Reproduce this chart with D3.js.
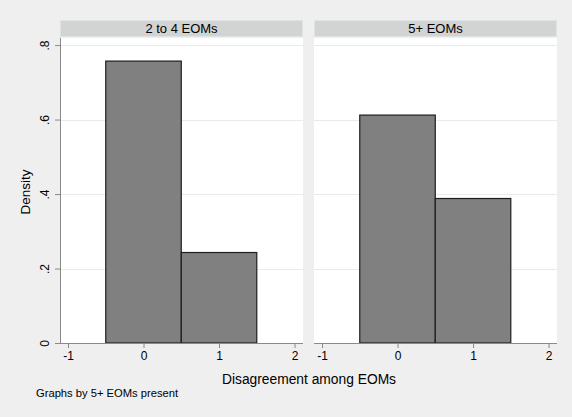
<!DOCTYPE html>
<html>
<head>
<meta charset="utf-8">
<script src="https://cdn.jsdelivr.net/npm/d3@7"></script>
<style>
  html, body { margin: 0; padding: 0; background: #efefef; }
  svg { display: block; font-family: "Liberation Sans", Arial, Helvetica, sans-serif; }
</style>
</head>
<body>
<svg id="chart" width="572" height="417"></svg>
<script>
// Data
const panels = ["2 to 4 EOMs", "5+ EOMs"];
const binStarts = [-0.5, 0.5];
const binWidth = 1;
const densities = [
  [0.757, 0.243],   // 2 to 4 EOMs
  [0.612, 0.388]    // 5+ EOMs
];
const xTicks = [-1, 0, 1, 2];
const xTickLabels = ["-1", "0", "1", "2"];
const yTicks = [0, 0.2, 0.4, 0.6, 0.8];
const yTickLabels = ["0", ".2", ".4", ".6", ".8"];
const xTitle = "Disagreement among EOMs";
const yTitle = "Density";
const note = "Graphs by 5+ EOMs present";

const svg = d3.select("#chart");
svg.append("rect").attr("width", 572).attr("height", 417).attr("fill", "#efefef");

const panelLeft = [60, 314];
const panelW = 243;
const plotTop = 38, plotBottom = 343;
const stripTop = 20, stripH = 17;
const FONT = "Liberation Sans, Arial, sans-serif";

const y = d3.scaleLinear().domain([0, 0.819]).range([plotBottom, plotTop]);

panels.forEach((name, i) => {
  const x0 = panelLeft[i];
  const x = d3.scaleLinear().domain([-1.106, 2.112]).range([x0, x0 + panelW]);
  const g = svg.append("g");

  // strip
  g.append("rect").attr("x", x0 + 0.5).attr("y", stripTop + 0.5)
    .attr("width", panelW - 1).attr("height", stripH - 1)
    .attr("fill", "#d3d3d3").attr("stroke", "#dde4e6").attr("stroke-width", 1);
  g.append("text").attr("x", x0 + panelW / 2).attr("y", stripTop + 13)
    .attr("text-anchor", "middle").attr("font-size", 13).attr("fill", "#000")
    .text(name);

  // plot area
  g.append("rect").attr("x", x0).attr("y", plotTop)
    .attr("width", panelW).attr("height", plotBottom - plotTop).attr("fill", "#ffffff");

  // gridlines
  g.selectAll(".grid").data(yTicks.slice(1)).enter().append("line")
    .attr("x1", x0).attr("x2", x0 + panelW)
    .attr("y1", d => Math.round(y(d)) + 0.5).attr("y2", d => Math.round(y(d)) + 0.5)
    .attr("stroke", "#eaeaea").attr("stroke-width", 1);

  // bars
  g.selectAll(".bar").data(densities[i]).enter().append("rect")
    .attr("x", (d, j) => x(binStarts[j]))
    .attr("width", (d, j) => x(binStarts[j] + binWidth) - x(binStarts[j]))
    .attr("y", d => y(d))
    .attr("height", d => y(0) - y(d))
    .attr("fill", "#808080").attr("stroke", "#1e1e1e").attr("stroke-width", 1.2);

  // x axis
  const xAxis = d3.axisBottom(x).tickValues(xTicks).tickSize(5).tickPadding(3)
    .tickFormat((d, k) => xTickLabels[k]);
  const ax = g.append("g").attr("transform", `translate(0,${plotBottom})`).call(xAxis);
  ax.select(".domain").attr("stroke", "#8a8a8a").attr("d", `M${x0},0.5H${x0 + panelW}`);
  ax.selectAll(".tick line").attr("stroke", "#8a8a8a");
  ax.selectAll(".tick text").attr("font-size", 12).attr("fill", "#000")
    .attr("font-family", FONT);

  if (i === 0) {
    const yAxis = d3.axisLeft(y).tickValues(yTicks).tickSize(5).tickPadding(3)
      .tickFormat((d, k) => yTickLabels[k]);
    const ay = g.append("g").attr("transform", `translate(${x0},0)`).call(yAxis);
    ay.select(".domain").attr("stroke", "#8a8a8a").attr("d", `M0.5,${plotTop}V${plotBottom}`);
    ay.selectAll(".tick line").attr("stroke", "#8a8a8a");
    ay.selectAll(".tick text").attr("font-size", 12).attr("fill", "#000")
      .attr("font-family", FONT)
      .attr("text-anchor", "middle").attr("dy", 0).attr("x", 0)
      .attr("transform", "translate(-11,0) rotate(-90)");
  }
});

// axis titles
svg.append("text").attr("x", 309).attr("y", 384).attr("text-anchor", "middle")
  .attr("font-size", 13.8).attr("fill", "#000").text(xTitle);
svg.append("text").attr("transform", "translate(30,192) rotate(-90)")
  .attr("text-anchor", "middle").attr("font-size", 13.5).attr("fill", "#000").text(yTitle);
svg.append("text").attr("x", 36).attr("y", 397).attr("font-size", 11.2).attr("fill", "#000").text(note);
</script>
</body>
</html>
